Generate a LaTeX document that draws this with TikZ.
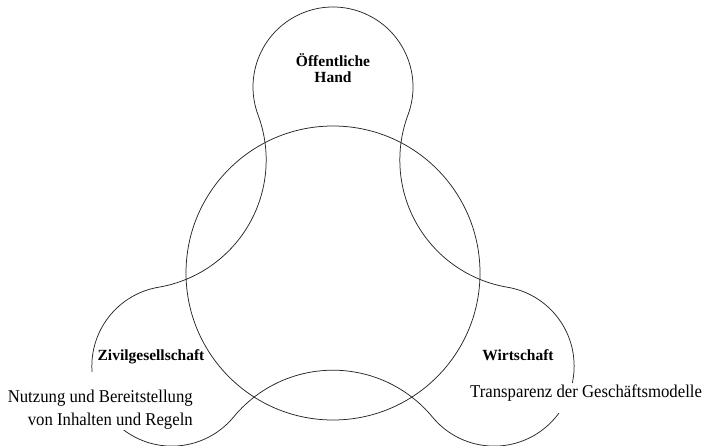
\documentclass[tikz,border=0pt]{standalone}
\usepackage{fontspec}
\setmainfont{Liberation Serif}
\newfontfamily\bodyfont[FakeStretch=0.93]{Liberation Serif}
\usetikzlibrary{calc}
\begin{document}
\begin{tikzpicture}[x=1pt,y=1pt,
  outline/.style={draw=black!85,line width=0.75pt},
  sector/.style={font=\bfseries\fontsize{15.5}{17}\selectfont,inner sep=0pt,anchor=base},
  remark/.style={font=\bodyfont\fontsize{18}{20}\selectfont,inner xsep=2pt,inner ysep=0pt,fill=white}]
\useasboundingbox (0,0) rectangle (708,-446);

% centre of the core circle and the three lobes around it
\coordinate (C)  at (333,-273);
\coordinate (LT) at ($(C)+(90:186)$);
\coordinate (LL) at ($(C)+(210:186)$);
\coordinate (LR) at ($(C)+(330:186)$);
% centres of the concave bridges between neighbouring lobes
\coordinate (BL) at ($(C)+(150:226)$);
\coordinate (BB) at ($(C)+(270:226)$);
\coordinate (BR) at ($(C)+(30:226)$);

% three-lobed outline: lobe arcs joined tangentially by concave bridges
\draw[outline] ($(LT)+(-20.45:80pt)$)
  arc[start angle=-20.45, end angle=200.45, radius=80pt]
  arc[start angle=20.45, end angle=-80.45, radius=129pt]
  arc[start angle=99.55, end angle=320.45, radius=80pt]
  arc[start angle=140.45, end angle=39.55, radius=129pt]
  arc[start angle=219.55, end angle=440.45, radius=80pt]
  arc[start angle=260.45, end angle=159.55, radius=129pt]
  -- cycle;

% core circle
\draw[outline] (C) circle[radius=147pt];

% sector names
\node[sector] (oeff1) at (333,-66.7) {Öffentliche};
\node[sector] (oeff2) at (333,-83) {Hand};
\node[sector] (ziv)   at (151,-360) {Zivilgesellschaft};
\node[sector] (wirt)  at (518,-360) {Wirtschaft};

% remarks, set on white so the outline breaks behind them
\node[remark,anchor=base east,text height=30pt,text depth=15pt] (nutz1) at (195,-402) {Nutzung und Bereitstellung};
\node[remark,anchor=base east,text height=12pt,text depth=5pt] (nutz2) at (195,-425) {von Inhalten und Regeln};
\node[remark,anchor=base west,text height=14pt,text depth=16pt] (transp) at (468,-397) {Transparenz der Geschäftsmodelle};
\end{tikzpicture}
\end{document}
